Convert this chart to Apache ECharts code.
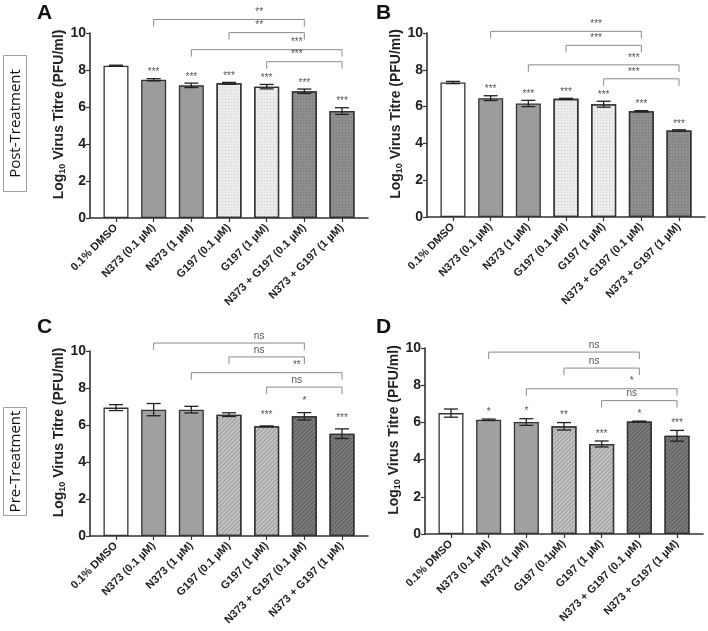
<!DOCTYPE html>
<html>
<head>
<meta charset="utf-8">
<script src="https://cdn.jsdelivr.net/npm/echarts@6/dist/echarts.min.js"></script>
<style>
  html, body { margin: 0; background: #fff; }
  #chart { width: 708px; height: 631px; }
</style>
</head>
<body>
<div id="chart"></div>
<script>
// categories (panel D spells one label without the space)
const categories = ['0.1% DMSO', 'N373 (0.1 µM)', 'N373 (1 µM)', 'G197 (0.1 µM)', 'G197 (1 µM)', 'N373 + G197 (0.1 µM)', 'N373 + G197 (1 µM)'];
const categoriesD = ['0.1% DMSO', 'N373 (0.1 µM)', 'N373 (1 µM)', 'G197 (0.1µM)', 'G197 (1 µM)', 'N373 + G197 (0.1 µM)', 'N373 + G197 (1 µM)'];

// means (log10 PFU/ml) and SEM
const meanA = [8.23, 7.47, 7.17, 7.28, 7.10, 6.85, 5.78];
const semA  = [0.03, 0.06, 0.12, 0.05, 0.12, 0.12, 0.18];
const meanB = [7.31, 6.46, 6.17, 6.42, 6.13, 5.75, 4.70];
const semB  = [0.06, 0.13, 0.17, 0.03, 0.16, 0.03, 0.04];
const meanC = [6.94, 6.83, 6.83, 6.56, 5.93, 6.47, 5.53];
const semC  = [0.16, 0.33, 0.18, 0.10, 0.02, 0.20, 0.26];
const meanD = [6.50, 6.14, 6.02, 5.79, 4.84, 6.05, 5.28];
const semD  = [0.22, 0.04, 0.18, 0.20, 0.16, 0.02, 0.29];

// stars vs DMSO
const starsA = ['', '***', '***', '***', '***', '***', '***'];
const starsB = ['', '***', '***', '***', '***', '***', '***'];
const starsC = ['', '', '', '', '***', '*', '***'];
const starsD = ['', '*', '*', '**', '***', '*', '***'];

// comparison brackets: [from, to] and height of each bracket
const bracketPairs = [[1, 5], [3, 5], [2, 6], [4, 6]];
const bracketYA = [10.73, 10.02, 9.10, 8.45];
const bracketYB = [10.09, 9.33, 8.27, 7.51];
const bracketYC = [10.43, 9.68, 8.83, 8.05];
const bracketYD = [9.78, 8.92, 7.81, 7.17];
const bracketLabA = ['**', '**', '***', '***'];
const bracketLabB = ['***', '***', '***', '***'];
const bracketLabC = ['ns', 'ns', '**', 'ns'];
const bracketLabD = ['ns', 'ns', '*', 'ns'];

// bar fills
const dots = (c) => ({ symbol: 'rect', symbolSize: 1, dashArrayX: [1, 2], dashArrayY: [1, 2], color: c });
const hatch = (c) => ({ symbol: 'rect', symbolSize: 1, dashArrayX: [1, 0], dashArrayY: [1, 2], rotation: -Math.PI / 4, color: c });
const postFills = [
  { color: '#ffffff' },
  { color: '#9c9c9c' }, { color: '#9c9c9c' },
  { color: '#ececec', decal: dots('rgba(0,0,0,0.13)') }, { color: '#ececec', decal: dots('rgba(0,0,0,0.13)') },
  { color: '#8e8e8e', decal: dots('rgba(0,0,0,0.18)') }, { color: '#8e8e8e', decal: dots('rgba(0,0,0,0.18)') }
];
const preFills = [
  { color: '#ffffff' },
  { color: '#a0a0a0' }, { color: '#a0a0a0' },
  { color: '#c4c4c4', decal: hatch('rgba(0,0,0,0.22)') }, { color: '#c4c4c4', decal: hatch('rgba(0,0,0,0.22)') },
  { color: '#7c7c7c', decal: hatch('rgba(0,0,0,0.25)') }, { color: '#7c7c7c', decal: hatch('rgba(0,0,0,0.25)') }
];

const panels = [
  { grid: { left: 90, top: 33, width: 278, height: 185 }, cats: categories, mean: meanA, sem: semA, stars: starsA, brY: bracketYA, brLab: bracketLabA, fills: postFills, starGap: 10 },
  { grid: { left: 427, top: 33, width: 278, height: 184 }, cats: categories, mean: meanB, sem: semB, stars: starsB, brY: bracketYB, brLab: bracketLabB, fills: postFills, starGap: 10 },
  { grid: { left: 90, top: 351, width: 278, height: 185 }, cats: categories, mean: meanC, sem: semC, stars: starsC, brY: bracketYC, brLab: bracketLabC, fills: preFills, starGap: 15 },
  { grid: { left: 425, top: 348, width: 278, height: 186 }, cats: categoriesD, mean: meanD, sem: semD, stars: starsD, brY: bracketYD, brLab: bracketLabD, fills: preFills, starGap: 11 }
];

const FONT = '"Liberation Sans", Arial, sans-serif';
const xIdx = [0, 1, 2, 3, 4, 5, 6];

const grid = [], xAxis = [], yAxis = [], series = [];

panels.forEach((p, k) => {
  grid.push(p.grid);
  xAxis.push({
    type: 'value', gridIndex: k, min: -0.69, max: 6.69,
    splitLine: { show: false },
    axisLine: { onZero: false, lineStyle: { color: '#333', width: 1.6 } },
    axisTick: { customValues: xIdx, length: 4, lineStyle: { color: '#333', width: 1.2 } },
    axisLabel: {
      customValues: xIdx, rotate: 45, margin: 8,
      formatter: v => p.cats[Math.round(v)],
      fontFamily: FONT, fontSize: 11, fontWeight: 'bold', color: '#222'
    }
  });
  yAxis.push({
    type: 'value', gridIndex: k, min: 0, max: 10, interval: 2,
    splitLine: { show: false },
    axisLine: { show: true, onZero: false, lineStyle: { color: '#333', width: 1.6 } },
    axisTick: { show: true, length: 4, lineStyle: { color: '#333', width: 1.2 } },
    axisLabel: { fontFamily: FONT, fontSize: 14, fontWeight: 'bold', color: '#222', margin: 4 },
    name: '{a|Log}{b|10}{a| Virus Titre (PFU/ml)}',
    nameLocation: 'middle', nameGap: 21,
    nameTextStyle: {
      padding: [0, 0, 0, 22],
      rich: {
        a: { fontFamily: FONT, fontSize: 14, fontWeight: 'bold', color: '#222', lineHeight: 17, verticalAlign: 'bottom' },
        b: { fontFamily: FONT, fontSize: 9, fontWeight: 'bold', color: '#222', lineHeight: 17, verticalAlign: 'bottom', padding: [5, 0, 0, 0] }
      }
    }
  });

  // bars
  series.push({
    type: 'bar', xAxisIndex: k, yAxisIndex: k, barWidth: 25,
    data: p.mean.map((m, i) => ({
      value: [i, m],
      itemStyle: Object.assign({ borderColor: '#333', borderWidth: 1.3 }, p.fills[i])
    })),
    z: 2
  });

  // error bars
  series.push({
    type: 'custom', xAxisIndex: k, yAxisIndex: k, z: 3,
    encode: { x: 0, y: 1 },
    data: p.mean.map((m, i) => [i, m, p.sem[i]]),
    renderItem: (params, api) => {
      const x = api.value(0), m = api.value(1), s = api.value(2);
      const t = api.coord([x, m + s]), b = api.coord([x, m - s]);
      const w = 7, st = { stroke: '#222', lineWidth: 1.3 };
      return {
        type: 'group', children: [
          { type: 'line', shape: { x1: t[0], y1: t[1], x2: b[0], y2: b[1] }, style: st },
          { type: 'line', shape: { x1: t[0] - w, y1: t[1], x2: t[0] + w, y2: t[1] }, style: st },
          { type: 'line', shape: { x1: b[0] - w, y1: b[1], x2: b[0] + w, y2: b[1] }, style: st }
        ]
      };
    }
  });

  // significance stars above bars
  series.push({
    type: 'custom', xAxisIndex: k, yAxisIndex: k, z: 4, clip: false,
    encode: { x: 0, y: 1 },
    data: p.mean.map((m, i) => [i, m + p.sem[i]]),
    renderItem: (params, api) => {
      const c = api.coord([api.value(0), api.value(1)]);
      return {
        type: 'text',
        style: {
          text: p.stars[params.dataIndex], x: c[0], y: c[1] - p.starGap + 4,
          align: 'center', verticalAlign: 'middle',
          font: '10px ' + FONT, fill: '#555'
        }
      };
    }
  });

  // comparison brackets
  series.push({
    type: 'custom', xAxisIndex: k, yAxisIndex: k, z: 4, clip: false,
    encode: { x: [0, 1], y: 2 },
    data: bracketPairs.map((pr, j) => [pr[0], pr[1], p.brY[j]]),
    renderItem: (params, api) => {
      const a = api.coord([api.value(0), api.value(2)]);
      const b = api.coord([api.value(1), api.value(2)]);
      const lab = api.coord([api.value(1) - 1.2, api.value(2)]);
      const d = 7;
      return {
        type: 'group', children: [
          {
            type: 'polyline',
            shape: { points: [[a[0], a[1] + d], [a[0], a[1]], [b[0], b[1]], [b[0], b[1] + d]] },
            style: { stroke: '#8a8a8a', lineWidth: 1, fill: null }
          },
          {
            type: 'text',
            style: {
              text: p.brLab[params.dataIndex], x: lab[0], y: a[1] - 7,
              align: 'center', verticalAlign: 'middle',
              font: '10px ' + FONT, fill: '#555'
            }
          }
        ]
      };
    }
  });
});

const letter = (t, x, y) => ({
  type: 'text', left: x, top: y,
  style: { text: t, font: 'bold 21px ' + FONT, fill: '#111' }
});
const sideBox = (t, y, h) => ({
  type: 'group', left: 3, top: y,
  children: [
    { type: 'rect', shape: { x: 0, y: 0, width: 23, height: h }, style: { fill: '#fff', stroke: '#a0a0a0', lineWidth: 1 } },
    {
      type: 'text', x: 12, y: h / 2, rotation: Math.PI / 2,
      style: { text: t, font: '15px "Open Sans", sans-serif', fill: '#111', align: 'center', verticalAlign: 'middle' }
    }
  ]
});

const chart = echarts.init(document.getElementById('chart'));
chart.setOption({
  backgroundColor: '#fff',
  animation: false,
  grid, xAxis, yAxis, series,
  graphic: [
    letter('A', 37, 3), letter('B', 376, 3), letter('C', 37, 317), letter('D', 376, 317),
    sideBox('Post-Treatment', 55, 136),
    sideBox('Pre-Treatment', 407, 108)
  ]
});
</script>
</body>
</html>
